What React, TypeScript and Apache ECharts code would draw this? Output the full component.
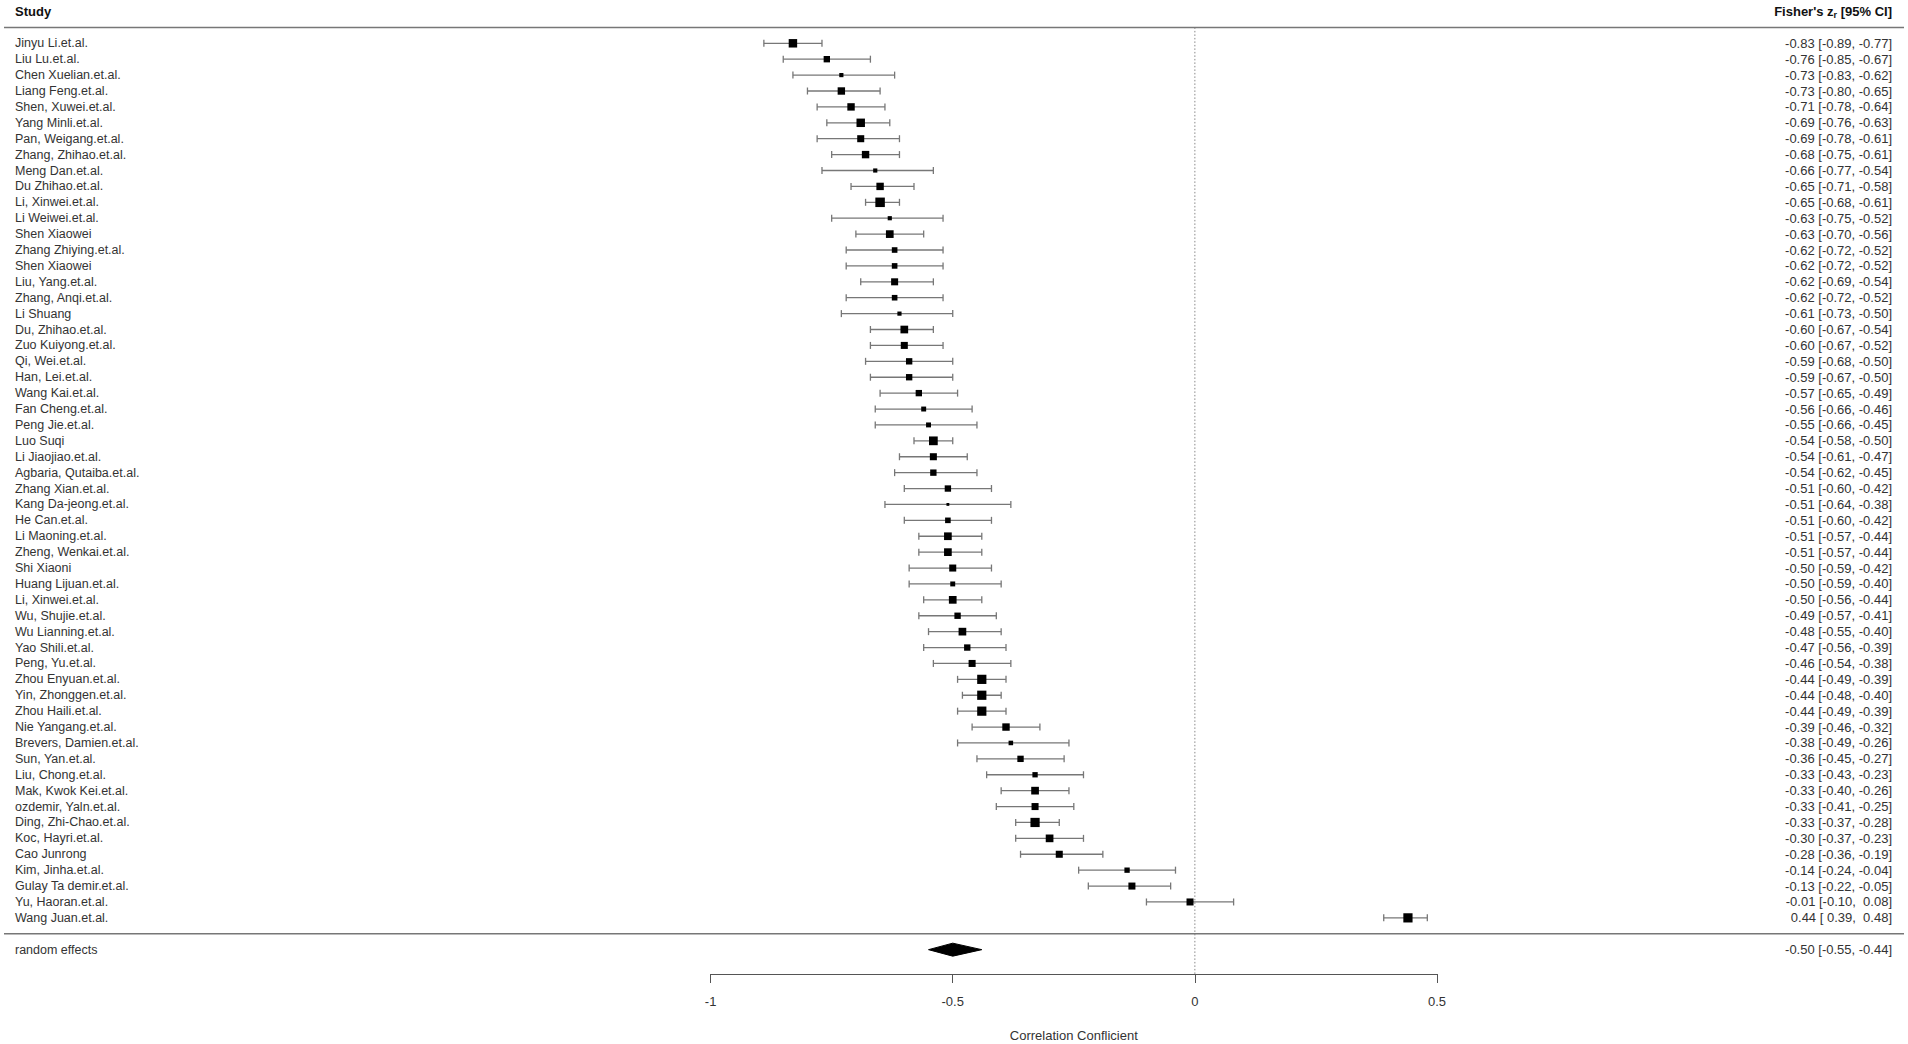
import React, { useEffect, useRef } from "react";
import * as echarts from "echarts";

const studies = [
  "Jinyu Li.et.al.", "Liu Lu.et.al.", "Chen Xuelian.et.al.", "Liang Feng.et.al.", "Shen, Xuwei.et.al.",
  "Yang Minli.et.al.", "Pan, Weigang.et.al.", "Zhang, Zhihao.et.al.", "Meng Dan.et.al.", "Du Zhihao.et.al.",
  "Li, Xinwei.et.al.", "Li Weiwei.et.al.", "Shen Xiaowei", "Zhang Zhiying.et.al.", "Shen Xiaowei",
  "Liu, Yang.et.al.", "Zhang, Anqi.et.al.", "Li Shuang", "Du, Zhihao.et.al.", "Zuo Kuiyong.et.al.",
  "Qi, Wei.et.al.", "Han, Lei.et.al.", "Wang Kai.et.al.", "Fan Cheng.et.al.", "Peng Jie.et.al.",
  "Luo Suqi", "Li Jiaojiao.et.al.", "Agbaria, Qutaiba.et.al.", "Zhang Xian.et.al.", "Kang Da-jeong.et.al.",
  "He Can.et.al.", "Li Maoning.et.al.", "Zheng, Wenkai.et.al.", "Shi Xiaoni", "Huang Lijuan.et.al.",
  "Li, Xinwei.et.al.", "Wu, Shujie.et.al.", "Wu Lianning.et.al.", "Yao Shili.et.al.", "Peng, Yu.et.al.",
  "Zhou Enyuan.et.al.", "Yin, Zhonggen.et.al.", "Zhou Haili.et.al.", "Nie Yangang.et.al.", "Brevers, Damien.et.al.",
  "Sun, Yan.et.al.", "Liu, Chong.et.al.", "Mak, Kwok Kei.et.al.", "ozdemir, Yaln.et.al.", "Ding, Zhi-Chao.et.al.",
  "Koc, Hayri.et.al.", "Cao Junrong", "Kim, Jinha.et.al.", "Gulay Ta demir.et.al.", "Yu, Haoran.et.al.",
  "Wang Juan.et.al.",
];

const estimates = [
  -0.83, -0.76, -0.73, -0.73, -0.71, -0.69, -0.69, -0.68, -0.66, -0.65,
  -0.65, -0.63, -0.63, -0.62, -0.62, -0.62, -0.62, -0.61, -0.60, -0.60,
  -0.59, -0.59, -0.57, -0.56, -0.55, -0.54, -0.54, -0.54, -0.51, -0.51,
  -0.51, -0.51, -0.51, -0.50, -0.50, -0.50, -0.49, -0.48, -0.47, -0.46,
  -0.44, -0.44, -0.44, -0.39, -0.38, -0.36, -0.33, -0.33, -0.33, -0.33,
  -0.30, -0.28, -0.14, -0.13, -0.01, 0.44,
];

const ciLower = [
  -0.89, -0.85, -0.83, -0.80, -0.78, -0.76, -0.78, -0.75, -0.77, -0.71,
  -0.68, -0.75, -0.70, -0.72, -0.72, -0.69, -0.72, -0.73, -0.67, -0.67,
  -0.68, -0.67, -0.65, -0.66, -0.66, -0.58, -0.61, -0.62, -0.60, -0.64,
  -0.60, -0.57, -0.57, -0.59, -0.59, -0.56, -0.57, -0.55, -0.56, -0.54,
  -0.49, -0.48, -0.49, -0.46, -0.49, -0.45, -0.43, -0.40, -0.41, -0.37,
  -0.37, -0.36, -0.24, -0.22, -0.10, 0.39,
];

const ciUpper = [
  -0.77, -0.67, -0.62, -0.65, -0.64, -0.63, -0.61, -0.61, -0.54, -0.58,
  -0.61, -0.52, -0.56, -0.52, -0.52, -0.54, -0.52, -0.50, -0.54, -0.52,
  -0.50, -0.50, -0.49, -0.46, -0.45, -0.50, -0.47, -0.45, -0.42, -0.38,
  -0.42, -0.44, -0.44, -0.42, -0.40, -0.44, -0.41, -0.40, -0.39, -0.38,
  -0.39, -0.40, -0.39, -0.32, -0.26, -0.27, -0.23, -0.26, -0.25, -0.28,
  -0.23, -0.19, -0.04, -0.05, 0.08, 0.48,
];

// relative study weights
const weights = [
  0.89, 0.67, 0.44, 0.78, 0.78, 0.89, 0.74, 0.78, 0.44, 0.78,
  1.0, 0.44, 0.81, 0.59, 0.59, 0.74, 0.59, 0.44, 0.81, 0.74,
  0.67, 0.67, 0.67, 0.52, 0.52, 0.92, 0.74, 0.67, 0.67, 0.3,
  0.59, 0.81, 0.81, 0.74, 0.52, 0.81, 0.67, 0.81, 0.67, 0.74,
  0.97, 0.97, 0.97, 0.78, 0.48, 0.67, 0.56, 0.81, 0.74, 0.97,
  0.81, 0.74, 0.56, 0.74, 0.74, 0.97,
];

const summaryLabel = "random effects";
const summaryEstimate = -0.5;
const summaryLower = -0.55;
const summaryUpper = -0.44;

const xTicks = [-1, -0.5, 0, 0.5];
const xAxisTitle = "Correlation Conflicient";
const studyHeader = "Study";

const FONT = "'Liberation Sans', Arial, Helvetica, sans-serif";
const FS = 13;
const FS_NAME = 12.5;
const SQUARE_PX = 9.5;
const Y_MIN = -2.723;
const Y_MAX = 58.53;

const fmt = (v: number) => (v < 0 ? v.toFixed(2) : " " + v.toFixed(2));
const ciText = (e: number, l: number, u: number) => `${fmt(e)} [${fmt(l)}, ${fmt(u)}]`;

export default function App() {
  const ref = useRef<HTMLDivElement>(null);

  useEffect(() => {
    const chart = echarts.init(ref.current!, null, { renderer: "svg" });
    const n = studies.length;
    const headerRow = -2;
    const topLineRow = -1;
    const bottomLineRow = n;
    const summaryRow = n + 1;

    const studyData = studies.map((_, i) => [estimates[i], ciLower[i], ciUpper[i], i, weights[i]]);

    const option: any = {
      animation: false,
      backgroundColor: "#ffffff",
      grid: { left: 710.6, right: 471, top: 0, bottom: 70, containLabel: false, outerBoundsMode: "none" },
      xAxis: {
        type: "value",
        min: xTicks[0],
        max: xTicks[xTicks.length - 1],
        interval: 0.5,
        splitLine: { show: false },
        axisLine: { show: true, onZero: false, lineStyle: { color: "#555", width: 1 } },
        axisTick: { show: true, length: 9, lineStyle: { color: "#555", width: 1 } },
        axisLabel: {
          show: true,
          margin: 21,
          color: "#333",
          fontSize: FS,
          fontFamily: FONT,
          showMinLabel: true,
          showMaxLabel: true,
          formatter: (v: number) => String(Math.round(v * 10) / 10),
        },
        name: xAxisTitle,
        nameLocation: "middle",
        nameGap: 55,
        nameTextStyle: { color: "#333", fontSize: FS, fontFamily: FONT },
      },
      yAxis: {
        type: "value",
        inverse: true,
        min: Y_MIN,
        max: Y_MAX,
        show: false,
      },
      series: [
        {
          type: "custom",
          name: "frame",
          clip: false,
          silent: true,
          data: [[0, headerRow]],
          encode: { x: 0, y: 1 },
          renderItem: (params: any, api: any) => {
            const yHead = api.coord([0, headerRow])[1];
            const yTop = api.coord([0, topLineRow])[1];
            const yBot = api.coord([0, bottomLineRow])[1];
            const x0 = api.coord([0, topLineRow])[0];
            const yAxisEnd = api.coord([0, Y_MAX])[1];
            return {
              type: "group",
              children: [
                {
                  type: "line",
                  shape: { x1: x0, y1: yTop, x2: x0, y2: yAxisEnd },
                  style: { stroke: "#888", lineWidth: 1, lineDash: [1.5, 2] },
                },
                {
                  type: "line",
                  shape: { x1: 4, y1: yTop, x2: 1904, y2: yTop },
                  style: { stroke: "#777", lineWidth: 1.5 },
                },
                {
                  type: "line",
                  shape: { x1: 4, y1: yBot, x2: 1904, y2: yBot },
                  style: { stroke: "#777", lineWidth: 1.5 },
                },
                {
                  type: "text",
                  x: 15,
                  y: yHead,
                  style: {
                    text: studyHeader,
                    fill: "#111",
                    fontSize: FS,
                    fontWeight: "bold",
                    fontFamily: FONT,
                    align: "left",
                    verticalAlign: "middle",
                  },
                },
                {
                  type: "text",
                  x: 1892,
                  y: yHead,
                  style: {
                    text: "{b|Fisher's z}{s|r}{b| [95% CI]}",
                    align: "right",
                    verticalAlign: "middle",
                    rich: {
                      b: { fill: "#111", fontSize: FS, fontWeight: "bold", fontFamily: FONT, lineHeight: 16, verticalAlign: "middle" },
                      s: { fill: "#111", fontSize: 9, fontWeight: "bold", fontFamily: FONT, lineHeight: 16, verticalAlign: "bottom", padding: [5, 0, 0, 0] },
                    },
                  },
                },
              ],
            };
          },
        },
        {
          type: "custom",
          name: "studies",
          clip: false,
          silent: true,
          data: studyData,
          encode: { x: [0, 1, 2], y: 3 },
          renderItem: (params: any, api: any) => {
            const row = api.value(3);
            const [xe, y] = api.coord([api.value(0), row]);
            const xl = api.coord([api.value(1), row])[0];
            const xh = api.coord([api.value(2), row])[0];
            const s = api.value(4) * SQUARE_PX;
            const i = params.dataIndex;
            const ci = { stroke: "#777", lineWidth: 1.3 };
            return {
              type: "group",
              children: [
                { type: "line", shape: { x1: xl, y1: y, x2: xh, y2: y }, style: ci },
                { type: "line", shape: { x1: xl, y1: y - 3.5, x2: xl, y2: y + 3.5 }, style: ci },
                { type: "line", shape: { x1: xh, y1: y - 3.5, x2: xh, y2: y + 3.5 }, style: ci },
                { type: "rect", shape: { x: xe - s / 2, y: y - s / 2, width: s, height: s }, style: { fill: "#000" } },
                {
                  type: "text",
                  x: 15,
                  y,
                  style: {
                    text: studies[i],
                    fill: "#333",
                    fontSize: FS_NAME,
                    fontFamily: FONT,
                    align: "left",
                    verticalAlign: "middle",
                  },
                },
                {
                  type: "text",
                  x: 1892,
                  y,
                  style: {
                    text: ciText(estimates[i], ciLower[i], ciUpper[i]),
                    fill: "#333",
                    fontSize: FS,
                    fontFamily: FONT,
                    align: "right",
                    verticalAlign: "middle",
                  },
                },
              ],
            };
          },
        },
        {
          type: "custom",
          name: "summary",
          clip: false,
          silent: true,
          data: [[summaryEstimate, summaryLower, summaryUpper, summaryRow]],
          encode: { x: [0, 1, 2], y: 3 },
          renderItem: (params: any, api: any) => {
            const row = api.value(3);
            const [xe, y] = api.coord([api.value(0), row]);
            const xl = api.coord([api.value(1), row])[0];
            const xh = api.coord([api.value(2), row])[0];
            const h = 6.5;
            return {
              type: "group",
              children: [
                {
                  type: "polygon",
                  shape: { points: [[xl, y], [xe, y - h], [xh, y], [xe, y + h]] },
                  style: { fill: "#000", stroke: "#000", lineWidth: 1 },
                },
                {
                  type: "text",
                  x: 15,
                  y,
                  style: { text: summaryLabel, fill: "#333", fontSize: FS_NAME, fontFamily: FONT, align: "left", verticalAlign: "middle" },
                },
                {
                  type: "text",
                  x: 1892,
                  y,
                  style: {
                    text: ciText(summaryEstimate, summaryLower, summaryUpper),
                    fill: "#333",
                    fontSize: FS,
                    fontFamily: FONT,
                    align: "right",
                    verticalAlign: "middle",
                  },
                },
              ],
            };
          },
        },
      ],
    };

    chart.setOption(option);
    return () => chart.dispose();
  }, []);

  return (
    <div
      ref={ref}
      style={{ position: "fixed", left: 0, top: 0, width: 1908, height: 1044, background: "#fff" }}
    />
  );
}
